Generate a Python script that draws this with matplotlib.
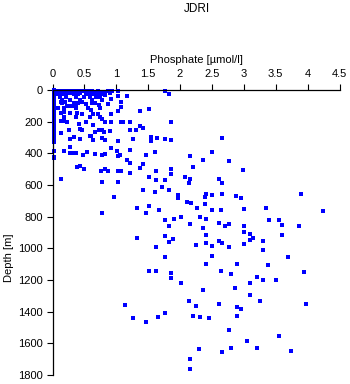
import matplotlib
matplotlib.use('Agg')
import matplotlib.pyplot as plt

# phosphate [umol/l] and depth [m] of the bottle samples, split by layer
axis_phos = [0.02] * 30
axis_depth = [0, 8, 15, 22, 30, 38, 45, 52, 60, 68, 75, 82, 90, 98, 105, 112,
              120, 128, 140, 150, 165, 180, 200, 230, 250, 270, 290, 330, 385, 425]

surface_phos = [0.05, 0.12, 0.18, 0.24, 0.31, 0.37, 0.43, 0.49, 0.56, 0.62, 0.71, 0.87, 0.93, 1.03,
                0.12, 0.18, 0.24, 0.31, 0.43, 0.53, 0.59, 0.67, 0.74, 0.81, 0.90,
                0.09, 0.16, 0.21, 0.34, 0.40, 0.65, 0.78,
                0.12, 0.21, 0.37, 0.49, 0.68, 0.74,
                0.15, 0.27, 0.43, 0.62, 0.78,
                0.15, 0.34, 0.40, 0.62, 0.67,
                0.09, 0.18, 0.37, 0.56, 0.74,
                0.18, 0.37, 0.59, 0.74]
surface_depth = [5, 5, 5, 5, 5, 5, 5, 5, 5, 5, 5, 5, 5, 5,
                 18, 18, 18, 18, 18, 18, 18, 18, 18, 18, 18,
                 28, 28, 28, 28, 28, 28, 28,
                 45, 45, 45, 45, 45, 45,
                 60, 60, 60, 60, 60,
                 85, 85, 85, 85, 85,
                 115, 115, 115, 115, 115,
                 170, 170, 170, 170]

upper_phos = [2.66, 2.50, 2.16, 2.36, 2.76, 2.21,
              1.76, 1.82, 1.17, 1.37, 1.52, 1.86, 1.37, 1.42, 1.22, 1.31, 1.55, 1.64,
              1.77, 1.86, 1.27, 1.55, 1.22, 1.61, 1.47, 1.17, 1.22, 1.42, 1.37, 1.86,
              0.83, 0.38, 0.43, 0.49, 0.03, 0.18, 0.28, 0.28, 0.33, 0.37, 0.48, 0.54,
              0.67, 0.78, 0.83, 1.01, 1.06, 1.02, 0.92, 1.02, 0.83, 0.78, 0.64, 0.61,
              0.59, 0.43, 0.28, 0.33, 0.13, 0.26, 0.43, 0.47, 0.73, 0.78, 0.80, 0.66,
              0.90, 0.42, 0.53, 0.64, 0.83, 0.78, 0.92, 1.07, 1.11, 1.22, 0.13, 0.18,
              0.22, 0.03, 0.03, 0.03, 1.02, 0.92, 0.71, 0.64, 0.61, 0.47, 0.38, 0.28,
              0.18, 0.13, 0.03, 1.07, 0.87, 0.73, 0.53, 0.47, 0.37, 0.33, 0.28, 0.23,
              0.13, 0.20, 1.07, 0.92, 1.02, 0.83, 0.72, 0.59, 0.54]
upper_depth = [305, 390, 415, 440, 450, 485,
               5, 25, 38, 133, 120, 202, 228, 243, 253, 253, 297, 303,
               310, 316, 308, 322, 379, 394, 411, 442, 461, 468, 493, 499,
               499, 489, 480, 499, 428, 386, 360, 396, 398, 398, 411, 392,
               407, 411, 404, 388, 411, 417, 369, 319, 316, 303, 314, 293,
               289, 310, 310, 297, 272, 253, 246, 251, 253, 253, 264, 264,
               262, 213, 205, 221, 200, 183, 200, 202, 205, 202, 198, 196,
               200, 202, 255, 308, 133, 150, 154, 154, 129, 154, 148, 145,
               142, 148, 154, 107, 87, 97, 87, 74, 99, 99, 99, 99,
               78, 78, 74, 57, 40, 32, 32, 42, 28]

deep_phos = [2.99, 2.07, 2.16, 2.14, 2.61, 2.66, 3.90, 2.41, 2.39, 2.50, 2.66, 2.88, 2.95,
             2.11, 2.17, 2.39, 2.26, 2.50, 2.64, 3.01, 3.35, 4.24, 2.01, 2.32, 2.41, 3.40,
             3.55, 2.16, 2.61, 2.76, 2.71, 3.01, 3.60, 3.87, 2.36, 3.01, 2.41, 3.10, 3.14,
             3.60, 3.10, 2.25, 2.41, 2.50, 2.61, 2.66, 2.76, 3.01, 3.30, 3.30, 3.70, 2.50,
             2.41, 2.90, 3.38, 2.64, 2.80, 3.95, 2.02, 3.10, 3.20, 3.30, 3.50, 2.86, 2.36,
             3.10, 2.14, 2.25, 2.61, 3.26, 2.90, 2.96, 3.98, 2.21, 2.32, 2.46, 2.90, 2.76,
             3.55, 3.05, 2.29, 2.80, 3.20, 2.66, 3.74, 2.16, 2.16,
             1.32, 1.77, 1.82, 1.89, 1.62, 1.77, 1.52, 1.62, 1.86, 1.86, 1.13, 1.27, 1.47,
             1.66, 1.77, 1.08, 1.22, 1.62, 1.86, 1.52, 1.62, 1.77, 1.72, 1.82, 1.42, 1.61,
             1.96, 1.96, 1.52, 1.32, 1.67, 1.47, 1.77, 1.91, 1.82, 0.78, 0.97, 0.78, 1.02,
             0.13, 0.76, 0.87, 1.02]
deep_depth = [505, 550, 560, 585, 565, 590, 655, 655, 675, 665, 655, 668, 683,
              710, 715, 720, 745, 757, 757, 752, 744, 761, 803, 799, 813, 820,
              822, 845, 837, 847, 856, 856, 853, 858, 872, 894, 914, 908, 933,
              916, 948, 982, 967, 986, 952, 969, 990, 971, 954, 1011, 1055, 1047,
              1102, 1100, 1106, 1146, 1165, 1150, 1220, 1222, 1182, 1201, 1201, 1251, 1264,
              1296, 1334, 1361, 1352, 1334, 1371, 1380, 1352, 1428, 1435, 1441, 1428, 1515,
              1555, 1586, 1635, 1631, 1631, 1656, 1650, 1700, 1763,
              935, 923, 961, 942, 992, 1055, 1144, 1144, 1157, 1188, 1359, 1439, 1466,
              1435, 1409, 510, 525, 512, 533, 550, 567, 567, 613, 630, 632, 643,
              664, 683, 731, 744, 757, 777, 822, 815, 858, 774, 676, 581, 581,
              562, 512, 512, 512]

xticks = [0, 0.5, 1, 1.5, 2, 2.5, 3, 3.5, 4, 4.5]
xticklabels = ['0', '0.5', '1', '1.5', '2', '2.5', '3', '3.5', '4', '4.5']
yticks = list(range(0, 1801, 200))

plt.rcParams['font.family'] = ['Liberation Sans', 'DejaVu Sans']
plt.rcParams['font.size'] = 8

fig = plt.figure(figsize=(3.5, 3.84), dpi=100)
ax = fig.add_axes([0.150, 0.0234, 0.820, 0.7422])

for phos, depth in [(axis_phos, axis_depth), (surface_phos, surface_depth),
                    (upper_phos, upper_depth), (deep_phos, deep_depth)]:
    ax.plot(phos, depth, linestyle='none', marker='s', markersize=2.4,
            markeredgewidth=0, color='#0000ff', clip_on=False)

ax.set_xlim(0, 4.5)
ax.set_ylim(1800, 0)
ax.xaxis.tick_top()
ax.xaxis.set_label_position('top')
ax.set_xticks(xticks)
ax.set_xticklabels(xticklabels)
ax.set_yticks(yticks)
ax.tick_params(axis='both', direction='out', length=4, width=0.8, color='black')
ax.tick_params(axis='x', pad=4)
ax.tick_params(axis='y', pad=3)

for side in ['right', 'bottom']:
    ax.spines[side].set_visible(False)
for side in ['left', 'top']:
    ax.spines[side].set_linewidth(0.9)

ax.set_xlabel('Phosphate [µmol/l]', labelpad=4)
ax.set_ylabel('Depth [m]')
ax.yaxis.set_label_coords(-0.135, 0.41)

fig.text(196.5 / 350, 1 - 9.5 / 384, 'JDRI', ha='center', va='center', fontsize=8.5)

fig.savefig('out.png', dpi=100)
